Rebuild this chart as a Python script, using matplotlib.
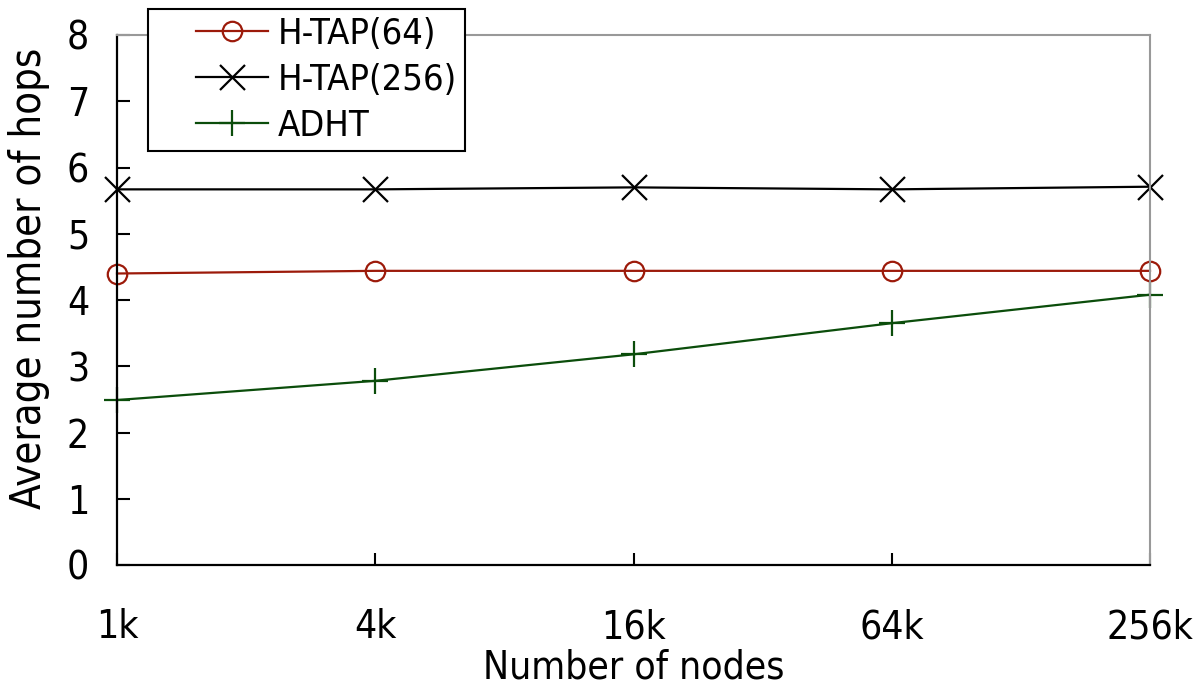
import matplotlib
matplotlib.use('Agg')
import matplotlib.pyplot as plt
from matplotlib.legend_handler import HandlerLine2D
import numpy as np

# data
nodes = ['1k', '4k', '16k', '64k', '256k']
htap64 = [4.40, 4.44, 4.44, 4.44, 4.44]
htap256 = [5.67, 5.67, 5.70, 5.67, 5.71]
adht = [2.49, 2.78, 3.18, 3.65, 4.08]

plt.rcParams['font.family'] = ['DejaVu Sans']
plt.rcParams['font.stretch'] = 'condensed'
plt.rcParams['font.weight'] = 'light'


class ShiftedLine(HandlerLine2D):
    # legend handle that starts a bit further right inside its box
    def __init__(self, shift, **kw):
        super().__init__(**kw)
        self.shift = shift

    def create_artists(self, legend, orig_handle, xdescent, ydescent,
                       width, height, fontsize, trans):
        s = self.shift * fontsize
        return super().create_artists(legend, orig_handle, xdescent - s,
                                      ydescent, width - s, height,
                                      fontsize, trans)


fig = plt.figure(figsize=(11.96, 6.85), dpi=100)
ax = fig.add_axes([117/1196, 1 - 565/685, 1033/1196, 530/685])

x = np.arange(len(nodes))
l1, = ax.plot(x, htap64, color='#9c1a0a', lw=1.6, marker='o', ms=14, mfc='none',
              mew=1.6, label='H-TAP(64)', clip_on=False)
l2, = ax.plot(x, htap256, color='black', lw=1.6, marker='x', ms=18, mew=1.6,
              label='H-TAP(256)', clip_on=False)
l3, = ax.plot(x, adht, color='#0b4d0b', lw=1.6, marker='+', ms=19, mew=1.6,
              label='ADHT', clip_on=False)

ax.set_xlim(0, 4)
ax.set_ylim(0, 8)
ax.set_xticks(x)
ax.set_xticklabels(nodes)
ax.set_yticks(range(9))

for s in ['top', 'right']:
    ax.spines[s].set_color('#999999')
    ax.spines[s].set_linewidth(1.5)
for s in ['left', 'bottom']:
    ax.spines[s].set_color('black')
    ax.spines[s].set_linewidth(1.6)

ax.tick_params(axis='both', direction='in', length=9, width=1.5, labelsize=28)
ax.tick_params(axis='x', pad=31)
ax.tick_params(axis='y', pad=20)

ax.set_xlabel('Number of nodes', fontsize=28)
ax.xaxis.set_label_coords(0.5, -0.158)
ax.set_ylabel('Average number of hops', fontsize=30)
ax.yaxis.set_label_coords(-0.065, 0.54)

h = ShiftedLine(1.12)
leg = fig.legend(loc='upper left', bbox_to_anchor=(148/1196, 1 - 9/685),
                 fontsize=26, frameon=True, fancybox=False, handlelength=3.1,
                 borderpad=0.22, labelspacing=0.33, handletextpad=0.28,
                 borderaxespad=0, handler_map={l1: h, l2: h, l3: h})
leg.get_frame().set_edgecolor('black')
leg.get_frame().set_linewidth(1.5)
leg.get_frame().set_alpha(1)

fig.savefig('out.png', dpi=100)
